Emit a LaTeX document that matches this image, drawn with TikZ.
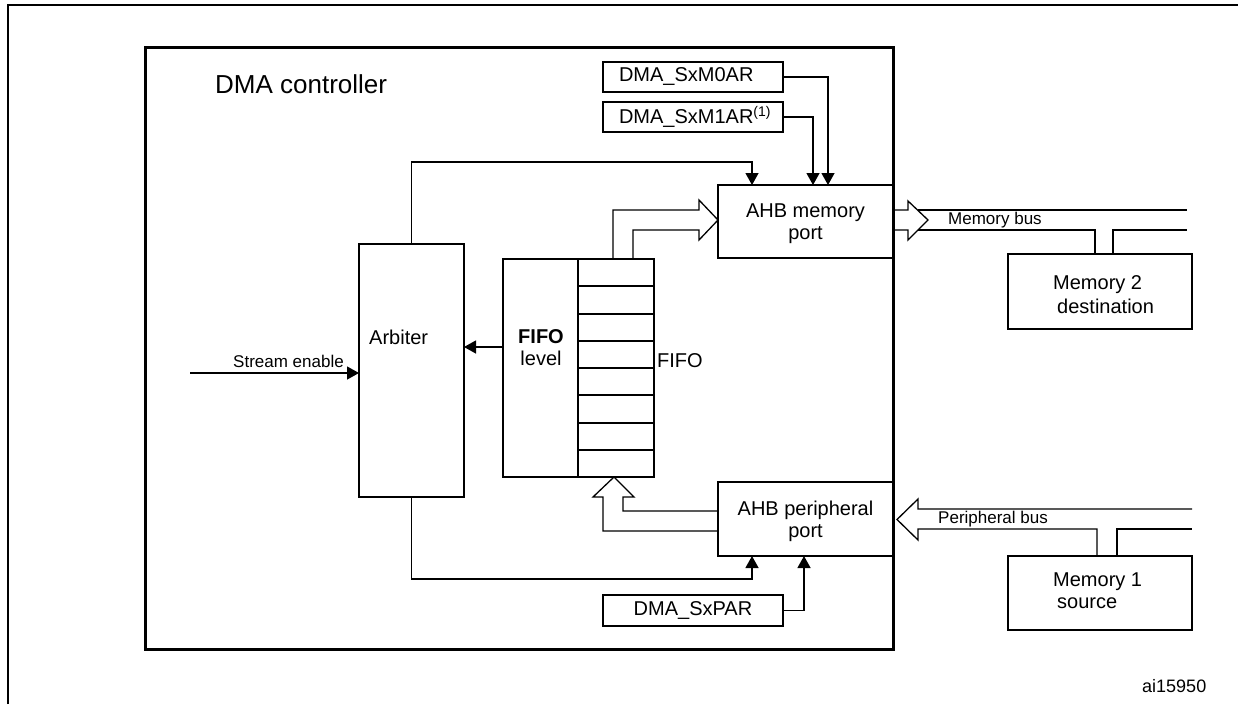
\documentclass[tikz,border=0pt]{standalone}
\usepackage{fontspec}
\setmainfont{Liberation Sans}
\usetikzlibrary{arrows.meta,calc}
\newcommand\lblfont{\fontsize{20}{22}\selectfont}
\newcommand\smlfont{\fontsize{17}{20}\selectfont}
\newcommand\ttlfont{\fontsize{26}{30}\selectfont}
\begin{document}
\begin{tikzpicture}[x=1pt,y=-1pt,
  box/.style={draw,line width=2pt,inner sep=0pt,outer sep=0pt,anchor=north west,align=center,font=\lblfont},
  conn/.style={line width=1.3pt},
  arr/.style={conn,-{Triangle[length=12pt,width=13pt]}},
  bus/.style={line width=1.3pt,line join=miter},
  txt/.style={font=\lblfont,inner sep=0pt},
  stxt/.style={font=\smlfont,inner sep=0pt}]
\useasboundingbox (0,0) rectangle (1238,704);
% outer frame
\draw[line width=1.5pt] (8,704) -- (8,5) -- (1238,5);
% DMA controller
\node[draw,line width=3pt,inner sep=0pt,outer sep=0pt,anchor=north west,minimum width=748pt,minimum height=602pt] (dma) at (145,47) {};
\node[font=\ttlfont,inner sep=0pt,anchor=base west] (dmat) at (215,93) {DMA controller};
% registers
\node[box,minimum height=30pt,text width=148pt,inner xsep=16pt,align=left] (m0ar) at (603,62) {DMA\_SxM0AR};
\node[box,minimum height=30pt,text width=148pt,inner xsep=16pt,align=left] (m1ar) at (603,102) {DMA\_SxM1AR\textsuperscript{(1)}};
\node[box,minimum width=180pt,minimum height=31pt] (par) at (603,595) {DMA\_SxPAR};
% ports
\node[box,minimum width=175pt,minimum height=73pt,text depth=-1pt] (ahbm) at (718,185) {AHB memory\\port};
\node[box,minimum width=175pt,minimum height=74pt,text depth=0pt] (ahbp) at (718,482) {AHB peripheral\\port};
% arbiter
\node[box,minimum width=105pt,minimum height=253pt] (arb) at (359,244) {};
\node[txt,anchor=base west] (arbt) at (369,344) {Arbiter};
% FIFO
\node[box,minimum width=151pt,minimum height=218pt] (fifo) at (503,259) {};
\draw[line width=2pt] (578,259) -- (578,477);
\foreach \i in {1,...,7} \draw[line width=2pt] (578,{259+27.25*\i}) -- (654,{259+27.25*\i});
\node[txt,align=center,anchor=center] (flvl) at (541,348) {\textbf{FIFO}\\level};
\node[txt,anchor=base west] (fifot) at (657,367) {FIFO};
% memories
\node[box,minimum width=184pt,minimum height=75pt] (mem2) at (1008,254) {};
\node[txt,align=left,anchor=west] (mem2t) at (1053,295) {Memory 2\\[2pt]\hspace{4pt}destination};
\node[box,minimum width=184pt,minimum height=74pt] (mem1) at (1008,556) {};
\node[txt,align=left,anchor=west] (mem1t) at (1053,591) {Memory 1\\\hspace{4pt}source};
% control connectors
\draw[arr] (m0ar.east) -| ([xshift=110pt]ahbm.north west);
\draw[arr] (m1ar.east) -| ([xshift=95pt]ahbm.north west);
\draw[arr] (arb.north) -- ++(0,-82) -| ([xshift=34pt]ahbm.north west);
\draw[arr] (arb.south) -- ++(0,82) -| ([xshift=34pt]ahbp.south west);
\draw[arr] (par.east) -| ([xshift=86pt]ahbp.south west);
\coordinate (fl) at ([yshift=21pt]fifo.west);
\draw[arr] (fl) -- (fl -| arb.east);
\coordinate (se) at (190,373);
\draw[arr] (se) -- (se -| arb.west);
\node[stxt,anchor=base east] (set) at (344,367) {Stream enable};
% data buses (hollow arrows)
\draw[bus] (613,259) |- (699,210) -- (699,200) -- (718,220) -- (699,240) -- (699,230) -| (633,259);
\draw[bus] (718,511) -| (623,497) -- (634,497) -- (614,477) -- (593,497) -- (603,497) |- (718,531);
\draw[bus] (893,210) -- (908,210) -- (908,201) -- (928,220) -- (908,240) -- (908,230) -- (893,230);
\draw[bus] (917.5,210) -- (1187,210);
\draw[bus] (917.5,230) -| (1095,254);
\draw[bus] (1113,254) |- (1187,230);
\node[stxt,anchor=base west] (mbus) at (948,224) {Memory bus};
\draw[bus] (1192,509) -- (918,509) -- (918,499) -- (897,519.5) -- (918,540) -- (918,529) -| (1097,556);
\draw[bus] (1117,556) |- (1192,529);
\node[stxt,anchor=base west] (pbus) at (938,523) {Peripheral bus};
\node[font=\fontsize{18}{20}\selectfont,inner sep=0pt,anchor=base west] (ref) at (1142,692) {ai15950};
\end{tikzpicture}
\end{document}
